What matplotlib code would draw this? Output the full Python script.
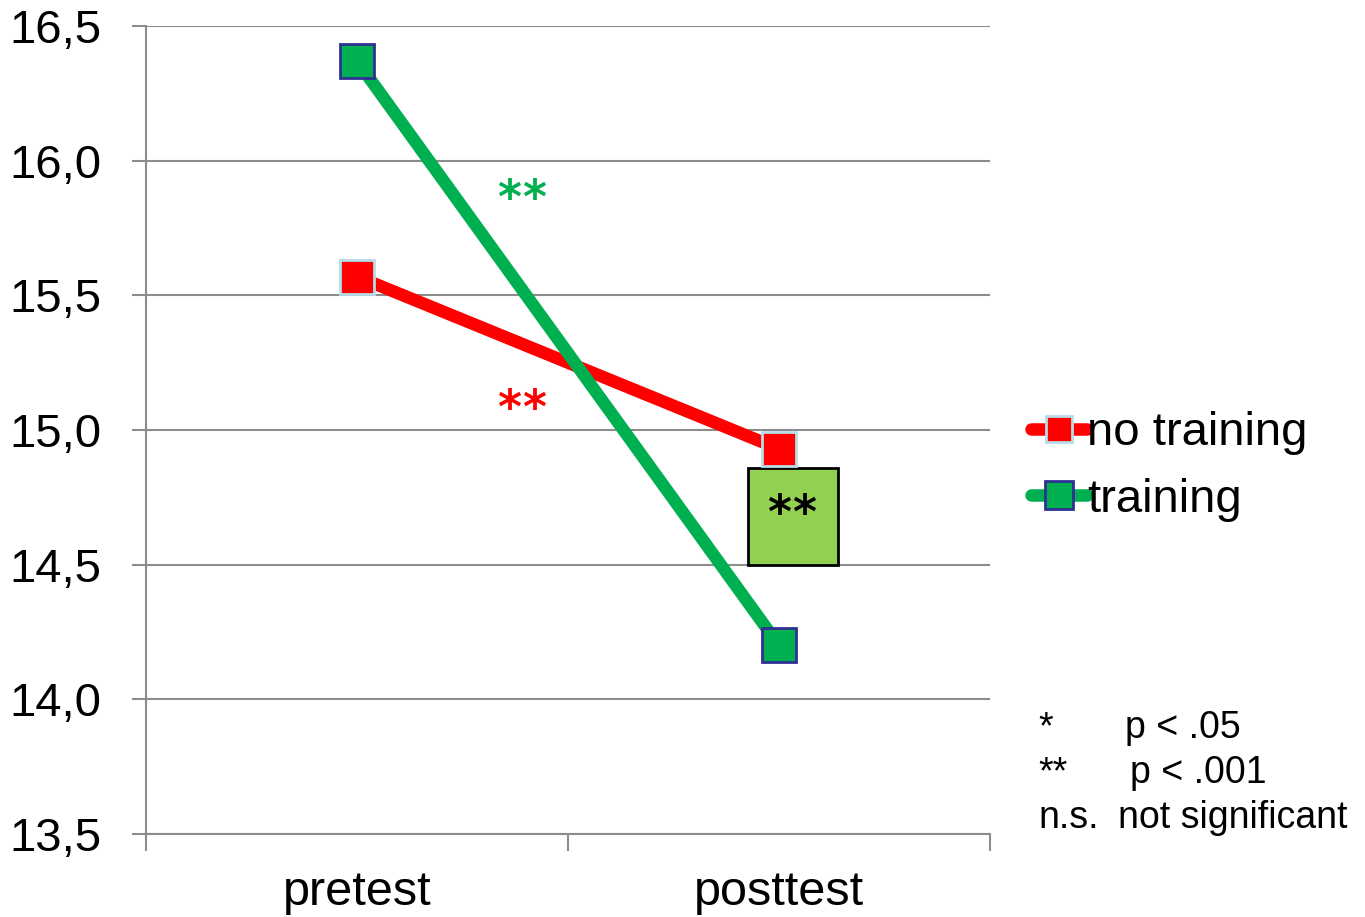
import matplotlib.pyplot as plt
import matplotlib.patches as mpatches

plt.rcParams['font.family'] = ['Liberation Sans', 'DejaVu Sans']

# data
phases = ['pretest', 'posttest']
no_training = [15.57, 14.93]
training = [16.37, 14.20]
y_ticks = [13.5, 14.0, 14.5, 15.0, 15.5, 16.0, 16.5]
y_labels = ['13,5', '14,0', '14,5', '15,0', '15,5', '16,0', '16,5']
sig_labels = ['*', '**', 'n.s.']
sig_texts = ['p < .05', 'p < .001', 'not significant']

grid_col = '#8c8c8c'
star_font = dict(family='DejaVu Sans', fontsize=33, fontweight='bold',
                 ha='center', va='baseline')


def double_star(ax, xc, yb, color, **kw):
    # two asterisks with a small gap between them
    for dx in (-0.0296, 0.0296):
        ax.text(xc + dx, yb, '*', color=color, **star_font, **kw)


fig = plt.figure(figsize=(13.65, 9.17), dpi=100)
ax = fig.add_axes([0.107, 0.0905, 0.6183, 0.8811])

x = list(range(len(phases)))
ax.plot(x, no_training, color='#ff0000', lw=9, solid_capstyle='round',
        marker='s', ms=24, mfc='#ff0000', mec='#b7dde8', mew=2,
        label='no training', zorder=3)
ax.plot(x, training, color='#00b050', lw=9, solid_capstyle='round',
        marker='s', ms=25, mfc='#00b050', mec='#2e3192', mew=2,
        label='training', zorder=4)

# significance marks on the lines
double_star(ax, 0.389, 15.805, '#00b050')
double_star(ax, 0.389, 15.025, '#ff0000')

# box at posttest
box = mpatches.Rectangle((0.927, 14.5), 0.213, 0.36, facecolor='#92d050',
                         edgecolor='black', lw=2, zorder=2)
ax.add_patch(box)
double_star(ax, 1.03, 14.635, 'black', zorder=5)

ax.set_xlim(-0.5, 1.5)
ax.set_ylim(13.5, 16.5)
ax.set_yticks(y_ticks)
ax.set_yticklabels(y_labels, fontsize=34)
ax.set_xticks([-0.5, 0.5, 1.5])
ax.set_xticklabels([])
ax.set_xticks(x, minor=True)
ax.set_xticklabels(phases, minor=True, fontsize=35)
ax.tick_params(axis='x', which='minor', length=0, pad=26)
ax.tick_params(axis='x', which='major', length=12, width=1.5, color=grid_col)
ax.tick_params(axis='y', length=10, width=1.5, color=grid_col, pad=22)

ax.grid(axis='y', color=grid_col, lw=1.5)
ax.set_axisbelow(True)
for side in ['top', 'right']:
    ax.spines[side].set_visible(False)
for side in ['left', 'bottom']:
    ax.spines[side].set_color(grid_col)
    ax.spines[side].set_linewidth(1.5)

ax.legend(loc='center left', bbox_to_anchor=(1.048, 0.455), frameon=False,
          fontsize=34, handlelength=1.2, handletextpad=0.0, labelspacing=0.48,
          markerscale=0.78, borderpad=0, borderaxespad=0)

# significance key
for i, (lab, txt) in enumerate(zip(sig_labels, sig_texts)):
    yy = 728 + i * 45
    xt = [1125, 1130, 1118][i]
    fig.text(1038 / 1365, 1 - yy / 917, lab, fontsize=27, va='center', ha='left')
    fig.text(xt / 1365, 1 - yy / 917, txt, fontsize=27, va='center', ha='left')

fig.savefig('out.png', dpi=100)
